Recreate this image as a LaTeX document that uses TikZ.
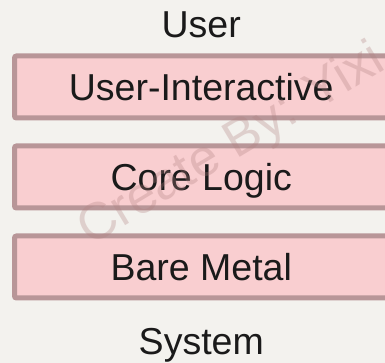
\documentclass[tikz,border=0pt]{standalone}
\usepackage{fontspec}
\setmainfont{Liberation Sans}
\usepackage{tikz}
\usetikzlibrary{positioning}

\definecolor{bgcol}{HTML}{F3F2EE}
\definecolor{layerfill}{HTML}{F9CED0}
\definecolor{layerdraw}{HTML}{B89698}
\definecolor{ink}{HTML}{1A1A1A}
\definecolor{markcol}{HTML}{B07F80}

\begin{document}
\begin{tikzpicture}
		[
		x=1pt, y=1pt,
		node distance=28pt,
		font=\fontsize{37.5}{45}\selectfont
		]
		
		% Two node styles: layer box and plain caption
		\tikzstyle{layer node}=[draw=layerdraw, fill=layerfill, line width=5pt, rounded corners=2pt, minimum width=373.5pt, minimum height=62pt, inner sep=0, outer sep=0, text height=27pt, text depth=0pt, text=ink];
		\tikzstyle{caption node}=[inner sep=0, outer sep=0, text height=27pt, text depth=0pt, text=ink];
		
		% Page
		\useasboundingbox[fill=bgcol](0,0)rectangle(385,363);
		\clip(0,0)rectangle(385,363);
		
		% The stack of layers
		\node(ui)[layer node]at(201.25,276){User-Interactive};
		\node(core)[layer node, below=of ui]{Core Logic};
		\node(metal)[layer node, below=of core]{Bare Metal};
		
		% Both ends of the stack
		\node(user)[caption node, above=18.5pt of ui]{User};
		\node(system)[caption node, below=30pt of metal]{System};
		
		% Credit line across the stack
		\node(credit)[anchor=base west, rotate=31, inner sep=0, text=markcol, opacity=0.3, font=\fontsize{52}{60}\selectfont]at(90,116){Create By: Yixi};
		
\end{tikzpicture}
\end{document}
